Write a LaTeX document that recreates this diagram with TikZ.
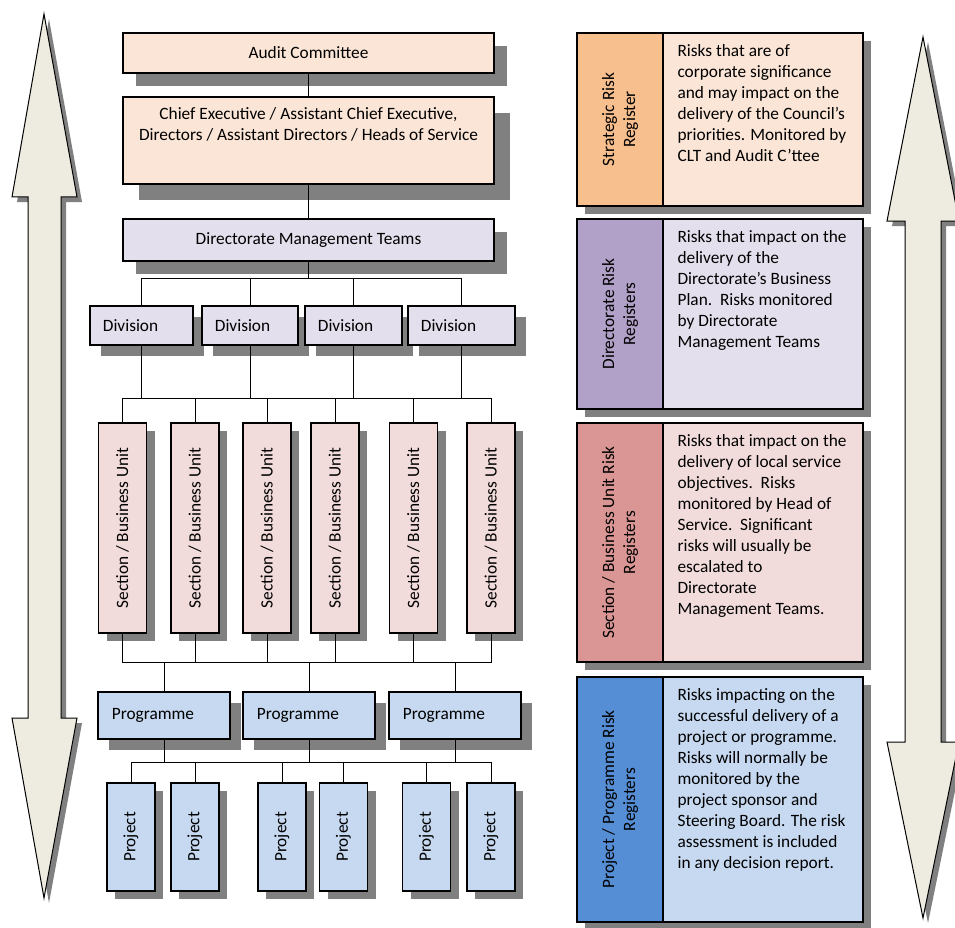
\documentclass[tikz,border=0pt]{standalone}
\usepackage{fontspec}
\setmainfont{Carlito}
\usepackage{tikz}
\usetikzlibrary{shadows}
\definecolor{peach}{HTML}{FBE5D6}
\definecolor{orangereg}{HTML}{F7BE8E}
\definecolor{lilac}{HTML}{E4DFEC}
\definecolor{purplereg}{HTML}{B1A0C7}
\definecolor{rose}{HTML}{F2DCDB}
\definecolor{redreg}{HTML}{DA9694}
\definecolor{skyblue}{HTML}{C6D9F1}
\definecolor{bluereg}{HTML}{558ED5}
\definecolor{arrowfill}{HTML}{EEECE1}
\definecolor{shadowgray}{HTML}{808080}

\begin{document}
\begin{tikzpicture}[x=1pt, y=-1pt,
    every node/.style={font=\fontsize{17.3}{21}\selectfont},
    shd/.style={drop shadow={shadow xshift=#1, shadow yshift=-#1, fill=shadowgray, opacity=1}},
    shd/.default=12pt,
    box/.style={draw, line width=1.3pt, inner sep=0pt},
    bigarrow/.style={draw, line width=1pt, fill=arrowfill, shd=5pt},
    link/.style={line width=1pt},
    regtext/.style={anchor=north west, align=left, inner sep=0pt}]
    \useasboundingbox (0,0) rectangle (955,928);

    \path[bigarrow] (44,14) -- (77,197) -- (61,197) -- (61,718) -- (77,718) -- (44,898)
        -- (12,718) -- (28,718) -- (28,197) -- (12,197) -- cycle;
    \path[bigarrow] (923,37) -- (959,221) -- (941,221) -- (941,742) -- (959,742) -- (923,918)
        -- (887,742) -- (905,742) -- (905,221) -- (887,221) -- cycle;

    \node[box, shd=13pt, fill=peach, minimum width=371, minimum height=40] (audit) at (308.5,53) {Audit Committee};
    \node[box, shd=16pt, fill=peach, minimum width=371, minimum height=87] (chief) at (308.5,140.5) {};
    \node[anchor=north, align=center, inner sep=0pt] (chieftext) at ([yshift=-11pt]chief.north)
        {Chief Executive / Assistant Chief Executive,\\Directors / Assistant Directors / Heads of Service};
    \node[box, shd=13pt, fill=lilac, minimum width=371, minimum height=42] (dmt) at (308.5,240) {Directorate Management Teams};

    \foreach \x/\w [count=\i] in {141.5/103, 250/96, 353.5/97, 461.5/107} {
        \node[box, shd=11pt, fill=lilac, minimum width=\w, minimum height=39] (div\i) at (\x,325.5) {};
        \node[anchor=west] (divt\i) at ([xshift=10pt]div\i.west) {Division};
    }

    \foreach \x [count=\i] in {122.5, 195, 267, 335, 413.5, 491}
        \node[box, shd=8pt, fill=rose, minimum width=48, minimum height=210] (sec\i) at (\x,528)
            {\rotatebox{90}{Section / Business Unit}};

    \foreach \x [count=\i] in {164, 309, 455} {
        \node[box, shd=11pt, fill=skyblue, minimum width=132, minimum height=47] (prog\i) at (\x,715.5) {};
        \node[anchor=west] (progt\i) at ([xshift=11pt]prog\i.west) {Programme};
    }

    \foreach \x [count=\i] in {131, 195, 282, 343.5, 426.5, 491}
        \node[box, shd=8pt, fill=skyblue, minimum width=48, minimum height=108] (proj\i) at (\x,837)
            {\rotatebox{90}{Project}};

    \coordinate (bus1) at (308.5,278);
    \coordinate (bus2) at (307,398);
    \coordinate (bus3) at (309,662);
    \coordinate (bus4) at (309,762);
    \draw[link] (audit) -- (chief);
    \draw[link] (chief) -- (dmt);
    \draw[link] (dmt) -- (bus1);
    \foreach \i in {1,...,4} {
        \draw[link] (bus1) -| (div\i.north);
        \draw[link] (div\i.south) |- (bus2);
    }
    \foreach \i in {1,...,6} {
        \draw[link] (bus2) -| (sec\i.north);
        \draw[link] (sec\i.south) |- (bus3);
        \draw[link] (bus4) -| (proj\i.north);
    }
    \foreach \i in {1,...,3} {
        \draw[link] (bus3) -| (prog\i.north);
        \draw[link] (prog\i.south) |- (bus4);
    }

    \foreach \y/\h/\lab/\fa/\fb [count=\i] in {
        119.5/173/{Strategic Risk\\Register}/orangereg/peach,
        314/190/{Directorate Risk\\Registers}/purplereg/lilac,
        542.5/239/{Section / Business Unit Risk\\Registers}/redreg/rose,
        799.5/245/{Project / Programme Risk\\Registers}/bluereg/skyblue} {
        \node[box, shd=8pt, fill=\fa, minimum width=86, minimum height=\h] (reg\i) at (620,\y) {};
        \node[rotate=90, align=center] (regl\i) at (reg\i.center) {\lab};
        \node[box, shd=8pt, fill=\fb, minimum width=200, minimum height=\h] (desc\i) at (763,\y) {};
    }
    \node[regtext] (desct1) at ([xshift=15pt,yshift=-12pt]desc1.north west)
        {Risks that are of\\corporate significance\\and may impact on the\\delivery of the Council’s\\priorities. Monitored by\\CLT and Audit C’ttee};
    \node[regtext] (desct2) at ([xshift=15pt,yshift=-12pt]desc2.north west)
        {Risks that impact on the\\delivery of the\\Directorate’s Business\\Plan.\ \ Risks monitored\\by Directorate\\Management Teams};
    \node[regtext] (desct3) at ([xshift=15pt,yshift=-12pt]desc3.north west)
        {Risks that impact on the\\delivery of local service\\objectives.\ \ Risks\\monitored by Head of\\Service.\ \ Significant\\risks will usually be\\escalated to\\Directorate\\Management Teams.};
    \node[regtext] (desct4) at ([xshift=15pt,yshift=-12pt]desc4.north west)
        {Risks impacting on the\\successful delivery of a\\project or programme.\\Risks will normally be\\monitored by the\\project sponsor and\\Steering Board. The risk\\assessment is included\\in any decision report.};
\end{tikzpicture}
\end{document}
